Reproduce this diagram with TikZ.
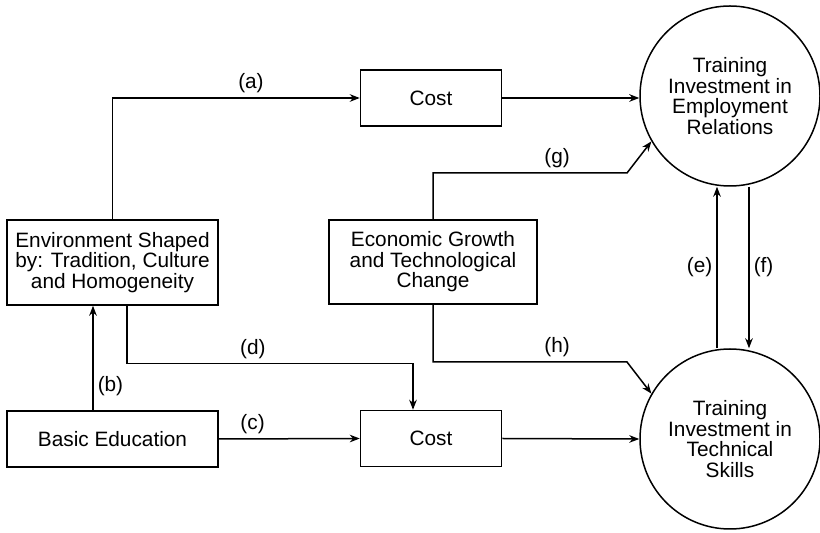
\documentclass[tikz,border=0pt]{standalone}
\usepackage{fontspec}
\setmainfont{Liberation Sans}
\usetikzlibrary{shapes, positioning, arrows.meta}

\begin{document}
\begin{tikzpicture}[->, >={Stealth[length=5pt,width=3.8pt]}, auto, x=0.5pt, y=-0.5pt,
    line width=0.75pt, font=\fontsize{10.4}{10.3}\selectfont]
  \useasboundingbox (0,0) rectangle (820,533);

  % Set the node styles
  \tikzset{box/.style={draw, rectangle, align=center, inner sep=0pt},
           ball/.style={circle, draw, align=center, inner sep=0pt, minimum size=90pt},
           lbl/.style={inner sep=2pt}}

  % Draw the boxes on the left and in the middle
  \node[box, minimum width=105.5pt, minimum height=42.5pt] (env) at (112.5,262.5)
    {Environment Shaped\\by: Tradition, Culture\\and Homogeneity};
  \node[box, minimum width=105.5pt, minimum height=28pt] (basic) at (112.5,439) {Basic Education};
  \node[box, minimum width=104pt, minimum height=42pt] (econ) at (433,262)
    {Economic Growth\\and Technological\\Change};
  \foreach \name/\y in {costA/98,costB/438.5}{
    \node[box, minimum width=70.5pt, minimum height=28pt] (\name) at (431,\y) {Cost};
  }

  % Draw the two training circles
  \node[ball] (tre) at (730,96) {Training\\Investment in\\Employment\\Relations};
  \node[ball] (tsk) at (730,439) {Training\\Investment in\\Technical\\Skills};

  % Bends of the growth arrows
  \coordinate (gbend) at (627,173);
  \coordinate (hbend) at (627,362);

  % Connect the nodes
  \draw (env.north) |- node[lbl, pos=0.78, above] (la) {(a)} (costA.west);
  \draw ([xshift=-9.75pt]basic.north) -- node[lbl, pos=0.23, right] (lb) {(b)} ([xshift=-9.75pt]env.south);
  \draw (basic.east) -- node[lbl, pos=0.24, above] (lc) {(c)} (costB.west);
  \draw ([xshift=7.25pt]env.south) -- ++(0,58) -| node[lbl, pos=0.22, above] (ld) {(d)} ([xshift=-9pt]costB.north);
  \draw ([xshift=-6.5pt]tsk.north) -- node[lbl, left] (le) {(e)} ([xshift=-6.5pt]tre.south);
  \draw ([xshift=9.5pt]tre.south) -- node[lbl, right] (lf) {(f)} ([xshift=9.5pt]tsk.north);
  \draw (econ.north) |- node[lbl, pos=0.82, above] (lg) {(g)} (gbend) -- (tre.210);
  \draw (econ.south) |- node[lbl, pos=0.82, above] (lh) {(h)} (hbend) -- (tsk.150);
  \draw (costA.east) -- (costA.east -| tre.west);
  \draw (costB.east) -- (tsk.west);
\end{tikzpicture}
\end{document}
